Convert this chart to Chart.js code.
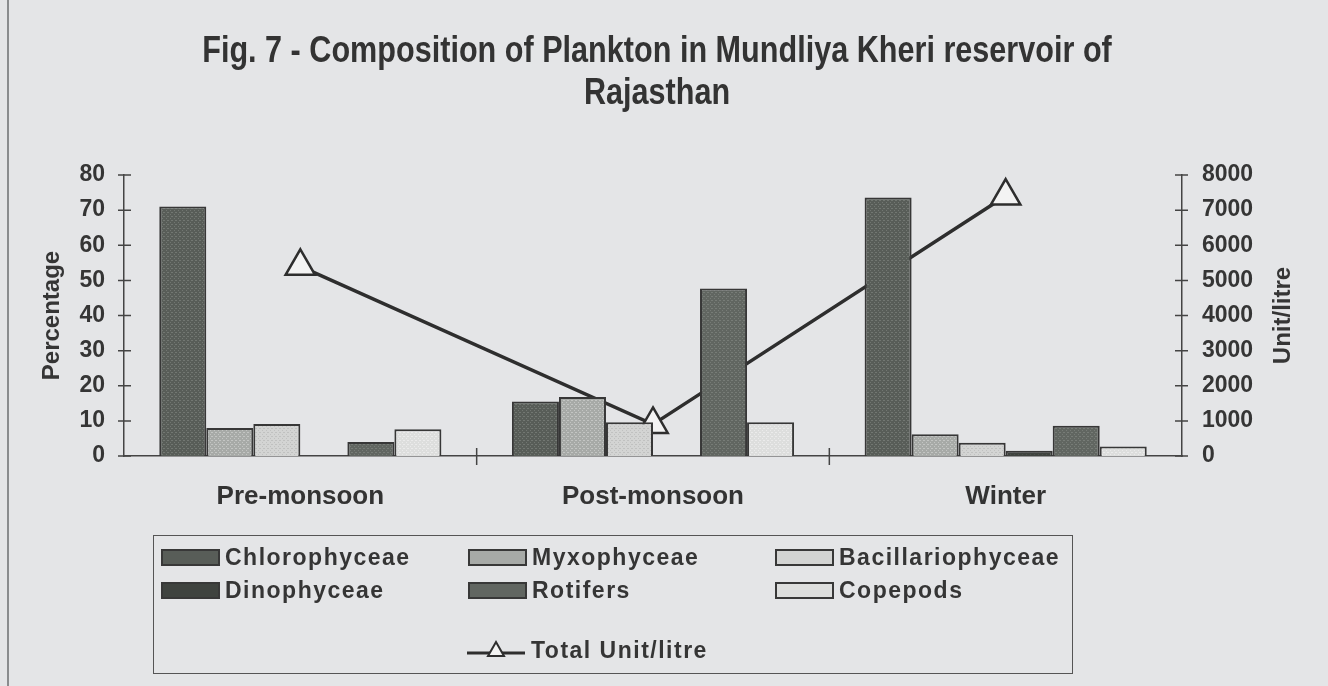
<!DOCTYPE html>
<html>
<head>
<meta charset="utf-8">
<script src="https://cdn.jsdelivr.net/npm/chart.js@4.4.1/dist/chart.umd.min.js"></script>
<style>
  html, body { margin: 0; padding: 0; }
  body { width: 1328px; height: 686px; background: #e4e5e7; position: relative; overflow: hidden; }
  #wrap { position: absolute; left: 0; top: 0; width: 1328px; height: 686px; }
  #edge { position: absolute; left: 7px; top: 0; width: 2px; height: 686px; background: #8a8c8e; }
  #legend { position: absolute; left: 153px; top: 535px; width: 920px; height: 139px; border: 1.5px solid #555; box-sizing: border-box; }
  .item { position: absolute; display: flex; align-items: center; height: 26px; font: bold 23px 'Liberation Sans', Arial, sans-serif; color: #353535; letter-spacing: 1.5px; white-space: nowrap; }
  .sw { width: 59px; height: 17px; border: 2px solid #383838; box-sizing: border-box; margin-right: 5px; }
  .ln { position: relative; width: 58px; height: 26px; margin-right: 6px; }
</style>
</head>
<body>
<div id="edge"></div>
<div id="wrap"><canvas id="chart"></canvas></div>
<div id="legend"></div>
<script>
// seasons and plankton groups
const seasons = ['Pre-monsoon', 'Post-monsoon', 'Winter'];
const groupNames = ['Chlorophyceae', 'Myxophyceae', 'Bacillariophyceae', 'Dinophyceae', 'Rotifers', 'Copepods'];
const titleLines = ['Fig. 7 - Composition of Plankton in Mundliya Kheri reservoir of', 'Rajasthan'];

// percentage of each group per season
const chlorophyceae = [71, 15.5, 73.6];
const myxophyceae = [8, 16.8, 6.2];
const bacillariophyceae = [9.1, 9.6, 3.8];
const dinophyceae = [0, 0, 1.5];
const rotifers = [4, 47.7, 8.6];
const copepods = [7.6, 9.6, 2.7];

// total plankton, unit/litre (right axis)
const totalUnitLitre = [5400, 900, 7400];

const percentTicks = [0, 10, 20, 30, 40, 50, 60, 70, 80];
const unitTicks = [0, 1000, 2000, 3000, 4000, 5000, 6000, 7000, 8000];

const groupValues = [chlorophyceae, myxophyceae, bacillariophyceae, dinophyceae, rotifers, copepods];
const groupColors = [
    ['#585d58', '#727772'],
    ['#a7aaa7', '#c3c5c3'],
    ['#d3d4d3', '#c0c1c0'],
    ['#3f433f', '#4c504c'],
    ['#616661', '#777c77'],
    ['#dddedd', '#ebebeb']
];

// small stipple texture like the printed bars
function stipple(base, speck) {
    const c = document.createElement('canvas');
    c.width = 4; c.height = 4;
    const g = c.getContext('2d');
    g.fillStyle = base;
    g.fillRect(0, 0, 4, 4);
    g.fillStyle = speck;
    g.fillRect(0, 0, 1, 1);
    g.fillRect(2, 2, 1, 1);
    g.fillRect(3, 0, 1, 1);
    return g.createPattern(c, 'repeat');
}

const labelFont = "'Liberation Sans', Arial, sans-serif";

// condensed two-line title, tick marks crossing the axes, right axis title
const axisMarks = {
    id: 'axisMarks',
    afterDraw(chart) {
        const {ctx, chartArea, scales} = chart;
        ctx.save();
        ctx.strokeStyle = '#444';
        ctx.lineWidth = 1.5;
        ctx.beginPath();
        percentTicks.forEach(v => {
            const py = scales.y.getPixelForValue(v);
            ctx.moveTo(chartArea.left - 6, py);
            ctx.lineTo(chartArea.left + 7, py);
        });
        unitTicks.forEach(v => {
            const py = scales.y1.getPixelForValue(v);
            ctx.moveTo(chartArea.right - 7, py);
            ctx.lineTo(chartArea.right + 6, py);
        });
        for (let i = 1; i < seasons.length; i++) {
            const px = scales.x.getPixelForValue(i - 0.5);
            ctx.moveTo(px, chartArea.bottom - 8);
            ctx.lineTo(px, chartArea.bottom + 9);
        }
        ctx.stroke();
        ctx.restore();

        ctx.save();
        ctx.fillStyle = '#333';
        ctx.font = 'bold 36px ' + labelFont;
        ctx.textAlign = 'center';
        ctx.textBaseline = 'middle';
        titleLines.forEach((t, i) => {
            ctx.save();
            ctx.translate(657, 52 + i * 42);
            ctx.scale(0.85, 1);
            ctx.fillText(t, 0, 0);
            ctx.restore();
        });
        ctx.restore();

        ctx.save();
        ctx.translate(1283, (chartArea.top + chartArea.bottom) / 2);
        ctx.rotate(-Math.PI / 2);
        ctx.fillStyle = '#353535';
        ctx.font = 'bold 24px ' + labelFont;
        ctx.textAlign = 'center';
        ctx.textBaseline = 'middle';
        ctx.fillText('Unit/litre', 0, 0);
        ctx.restore();
    }
};

const barSets = groupNames.map((name, i) => ({
    type: 'bar',
    label: name,
    data: groupValues[i],
    yAxisID: 'y',
    backgroundColor: stipple(groupColors[i][0], groupColors[i][1]),
    borderColor: '#373737',
    borderWidth: 2,
    categoryPercentage: 0.8,
    barPercentage: 1.0,
    order: 0
}));

const ctx = document.getElementById('chart').getContext('2d');
const chart = new Chart(ctx, {
    data: {
        labels: seasons,
        datasets: [
            ...barSets,
            {
                type: 'line',
                label: 'Total Unit/litre',
                data: totalUnitLitre,
                yAxisID: 'y1',
                borderColor: '#2e2e2e',
                borderWidth: 3.5,
                pointStyle: 'triangle',
                pointRadius: 17,
                pointBorderWidth: 2.5,
                pointBackgroundColor: '#f3f3f3',
                pointBorderColor: '#2e2e2e',
                tension: 0,
                order: 1
            }
        ]
    },
    options: {
        responsive: true,
        maintainAspectRatio: false,
        animation: false,
        layout: { padding: { left: 0, right: 0, top: 175, bottom: 170 } },
        plugins: {
            legend: { display: false },
            tooltip: { enabled: false },
            title: { display: false }
        },
        scales: {
            x: {
                grid: { display: false, drawTicks: false },
                border: { display: true, color: '#444', width: 1.5 },
                ticks: { color: '#333', font: { family: labelFont, size: 26, weight: 'bold' }, padding: 25 },
                afterFit(scale) { scale.height = 60; }
            },
            y: {
                position: 'left',
                min: 0, max: 80,
                grid: { display: false, drawTicks: false },
                border: { display: true, color: '#444', width: 1.5 },
                ticks: { stepSize: 10, color: '#353535', font: { family: labelFont, size: 23, weight: 'bold' }, padding: 19 },
                title: { display: true, text: 'Percentage', color: '#353535', font: { family: labelFont, size: 24, weight: 'bold' }, padding: { top: 38, bottom: 0 } },
                afterFit(scale) { scale.width = 124; }
            },
            y1: {
                position: 'right',
                min: 0, max: 8000,
                grid: { display: false, drawTicks: false },
                border: { display: true, color: '#444', width: 1.5 },
                ticks: { stepSize: 1000, color: '#353535', font: { family: labelFont, size: 23, weight: 'bold' }, padding: 20, callback: v => String(v) },
                afterFit(scale) { scale.width = 146; }
            }
        }
    },
    plugins: [axisMarks]
});

// legend laid out like the original: 3 columns, 2 rows, then the line entry
const legend = document.getElementById('legend');
const colX = [7, 314, 621];
const rowY = [8, 41];
groupNames.forEach((name, i) => {
    const item = document.createElement('div');
    item.className = 'item';
    item.style.left = colX[i % 3] + 'px';
    item.style.top = rowY[Math.floor(i / 3)] + 'px';
    const sw = document.createElement('span');
    sw.className = 'sw';
    sw.style.background = groupColors[i][0];
    item.appendChild(sw);
    item.appendChild(document.createTextNode(name));
    legend.appendChild(item);
});
const lineItem = document.createElement('div');
lineItem.className = 'item';
lineItem.style.left = '313px';
lineItem.style.top = '101px';
lineItem.innerHTML = '<span class="ln"><svg width="58" height="26"><line x1="0" y1="16" x2="58" y2="16" stroke="#2e2e2e" stroke-width="3"/><polygon points="29,5 37,19 21,19" fill="#f3f3f3" stroke="#2e2e2e" stroke-width="2"/></svg></span>Total Unit/litre';
legend.appendChild(lineItem);
</script>
</body>
</html>
